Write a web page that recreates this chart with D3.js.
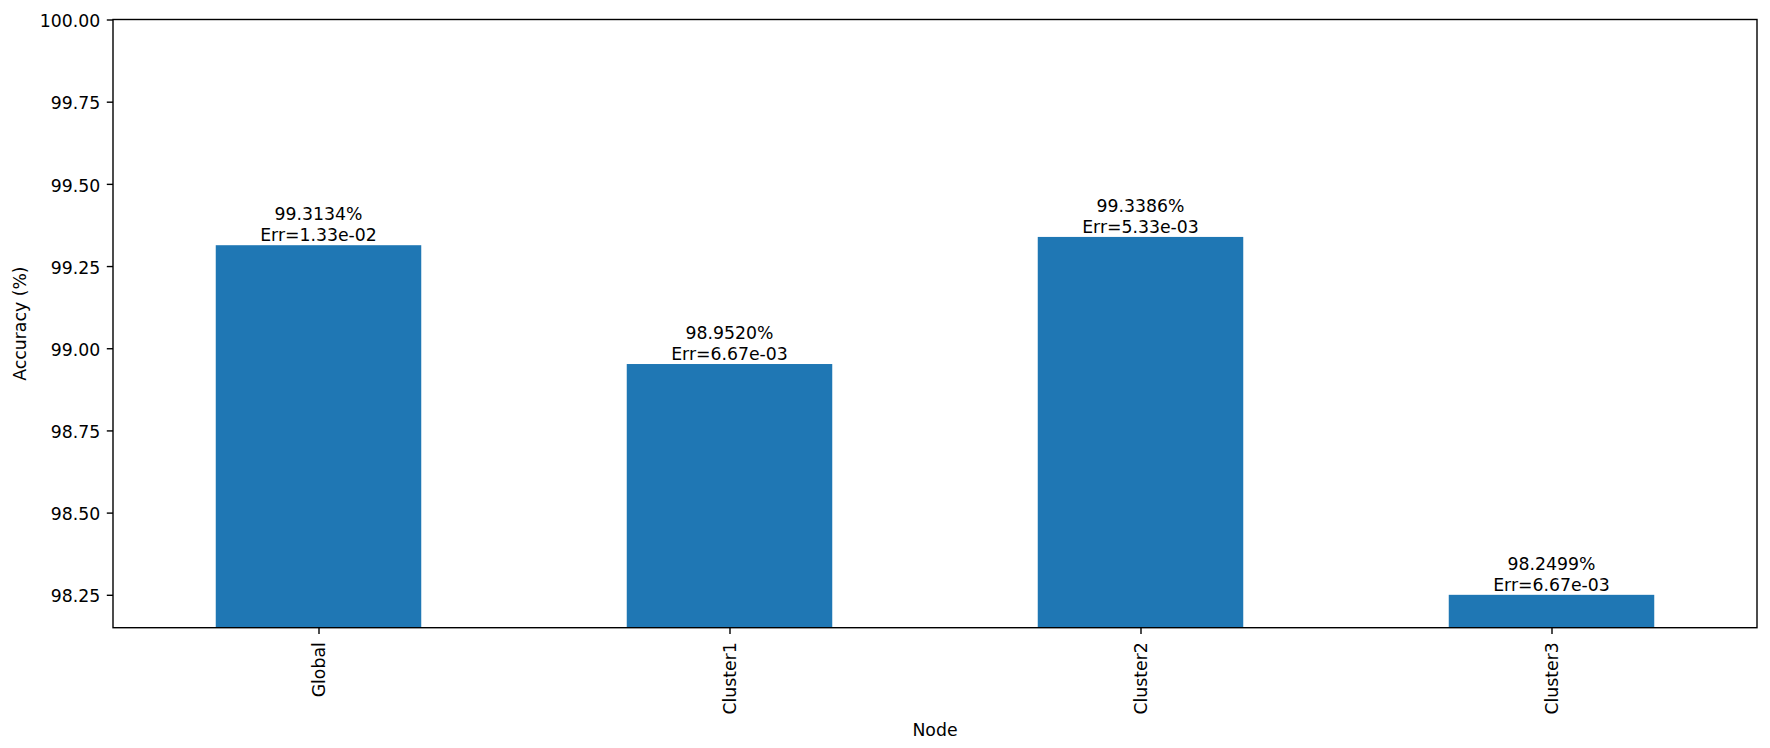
<!DOCTYPE html>
<html>
<head>
<meta charset="utf-8">
<script src="https://cdn.jsdelivr.net/npm/d3@7/dist/d3.min.js"></script>
<style>
  html, body { margin: 0; padding: 0; background: #fff; }
  svg text { font-family: "DejaVu Sans", sans-serif; fill: #000; }
</style>
</head>
<body>
<svg id="chart" width="1770" height="748"></svg>
<script>
const categories = ["Global", "Cluster1", "Cluster2", "Cluster3"];
const accuracy = [99.3134, 98.9520, 99.3386, 98.2499];
const errors = ["1.33e-02", "6.67e-03", "5.33e-03", "6.67e-03"];
const yTicks = [98.25, 98.50, 98.75, 99.00, 99.25, 99.50, 99.75, 100.00];
const yMin = 98.1499, yMax = 100.0;

const W = 1770, H = 748;
const m = { left: 113, right: 1757, top: 19.5, bottom: 627.7 };
const fs = 17.3;
const svg = d3.select("#chart");

const x = d3.scaleLinear().domain([-0.5, categories.length - 0.5]).range([m.left, m.right]);
const y = d3.scaleLinear().domain([yMin, yMax]).range([m.bottom, m.top]);
const barW = x(0.25) - x(-0.25);

// bars
svg.append("g").selectAll("rect").data(accuracy).join("rect")
  .attr("x", (d, i) => x(i) - barW / 2)
  .attr("y", d => y(d))
  .attr("width", barW)
  .attr("height", d => m.bottom - y(d))
  .attr("fill", "#1f77b4");

// bar labels
const lab = svg.append("g").selectAll("text").data(accuracy).join("text")
  .attr("text-anchor", "middle")
  .style("font-size", fs + "px");
lab.append("tspan")
  .attr("x", (d, i) => x(i))
  .attr("y", d => y(d) - 4.3 - 20.5)
  .text(d => d.toFixed(4) + "%");
lab.append("tspan")
  .attr("x", (d, i) => x(i))
  .attr("y", d => y(d) - 4.3)
  .text((d, i) => "Err=" + errors[i]);

// y axis
const yAxis = d3.axisLeft(y).tickValues(yTicks).tickFormat(d3.format(".2f")).tickSize(6.2).tickPadding(6.5);
const gy = svg.append("g").attr("transform", `translate(${m.left},0)`).call(yAxis);
gy.select(".domain").remove();
gy.selectAll(".tick line").attr("stroke", "#000").attr("stroke-width", 1.4);
gy.selectAll(".tick text").style("font-size", fs + "px").style("font-family", "DejaVu Sans").attr("dy", null).attr("y", 7.2);

// x axis
const xAxis = d3.axisBottom(x).tickValues(d3.range(categories.length)).tickFormat(i => categories[i]).tickSize(6.2).tickPadding(6.5);
const gx = svg.append("g").attr("transform", `translate(0,${m.bottom})`).call(xAxis);
gx.select(".domain").remove();
gx.selectAll(".tick line").attr("stroke", "#000").attr("stroke-width", 1.4);
gx.selectAll(".tick text")
  .style("font-size", fs + "px").style("font-family", "DejaVu Sans")
  .attr("text-anchor", "end")
  .attr("x", 0).attr("y", 0)
  .attr("dy", "0.33em")
  .attr("transform", "translate(0,14.5) rotate(-90)");

// frame
svg.append("rect")
  .attr("x", m.left).attr("y", m.top)
  .attr("width", m.right - m.left).attr("height", m.bottom - m.top)
  .attr("fill", "none").attr("stroke", "#000").attr("stroke-width", 1.4);

// axis labels
svg.append("text").attr("x", (m.left + m.right) / 2).attr("y", 736)
  .attr("text-anchor", "middle").style("font-size", fs + "px").text("Node");
svg.append("text")
  .attr("transform", `translate(26,${(m.top + m.bottom) / 2}) rotate(-90)`)
  .attr("text-anchor", "middle").style("font-size", fs + "px").text("Accuracy (%)");
</script>
</body>
</html>
